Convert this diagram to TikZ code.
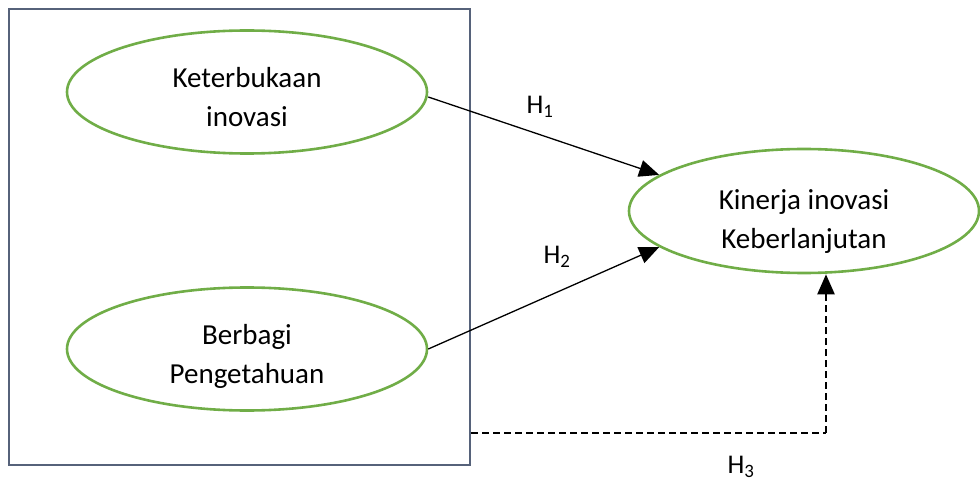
\documentclass[tikz,border=0pt]{standalone}
\usepackage{fontspec}
\setmainfont{Carlito}
\usetikzlibrary{arrows.meta,shapes.geometric}
\definecolor{framegray}{HTML}{56627A}
\definecolor{leafgreen}{HTML}{70AD47}
\tikzset{
  construct/.style={ellipse, draw=leafgreen, line width=2.6pt, minimum width=360pt,
    minimum height=123pt, inner sep=0pt},
  ctext/.style={align=center, inner sep=0pt, font=\fontsize{29}{39}\selectfont},
  path/.style={draw=black, line width=1.3pt, -{Triangle[length=20pt,width=17pt]}},
  moderator/.style={draw=black, line width=2.4pt, dash pattern=on 7pt off 4pt},
  hyplabel/.style={font=\fontsize{27}{30}\selectfont, inner sep=0pt}
}
\begin{document}
\begin{tikzpicture}[x=1pt,y=-1pt]
  \useasboundingbox (0,0) rectangle (980,481);
  % outer frame around the two independent constructs
  \node[draw=framegray, line width=2.4pt, minimum width=461pt, minimum height=456pt,
        inner sep=0pt] (frame) at (239.5,237) {};
  % constructs
  \node[construct] (open) at (247,92) {};
  \node[ctext] (opentext) at ([yshift=-5pt]open.center) {Keterbukaan\\inovasi};
  \node[construct] (share) at (247,349) {};
  \node[ctext] (sharetext) at ([yshift=-7pt]share.center) {Berbagi\\Pengetahuan};
  \node[construct, minimum width=350pt, minimum height=124pt] (perf) at (804,211) {};
  \node[ctext] (perftext) at ([yshift=-11pt]perf.center) {Kinerja inovasi\\Keberlanjutan};
  % hypothesised paths
  \draw[path] ([yshift=-5pt]open.east) -- (perf.166);
  \draw[path] (share.east) -- (perf.194);
  % moderating path
  \coordinate (bend) at (826,433);
  \draw[moderator] (frame.east |- bend) -- (bend);
  \draw[moderator, -{Triangle[length=20pt,width=17pt]}] (bend) -- (bend |- perf.south);
  % labels
  \node[hyplabel] (h1) at (540,107) {H\textsubscript{1}};
  \node[hyplabel] (h2) at (557,257) {H\textsubscript{2}};
  \node[hyplabel] (h3) at (741,467) {H\textsubscript{3}};
\end{tikzpicture}
\end{document}
